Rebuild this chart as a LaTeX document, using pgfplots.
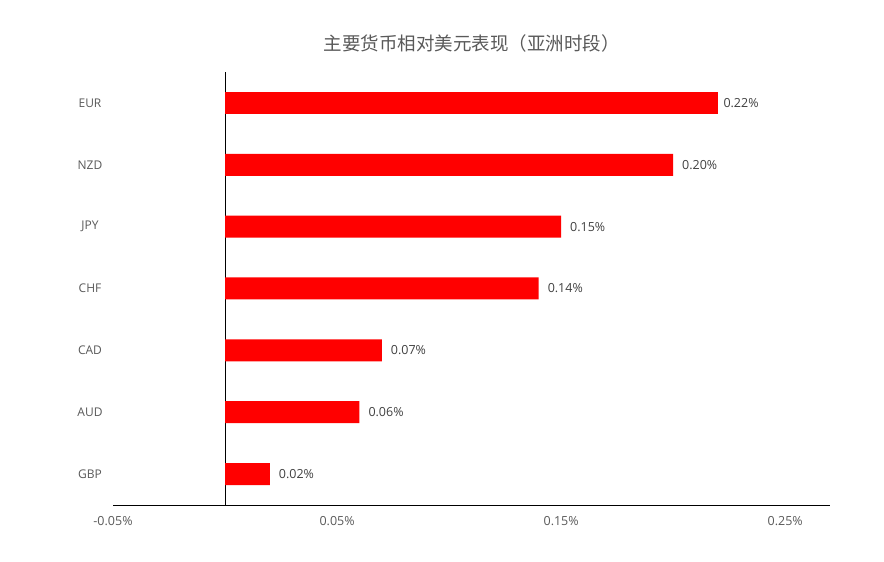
\documentclass[border=0pt]{standalone}
\usepackage{pgfplots}
\pgfplotsset{compat=1.18}
\usepackage{fontspec}
\setmainfont{Open Sans}
\newfontfamily\cjk{Noto Sans CJK SC}
\definecolor{txtgray}{HTML}{595959}
\definecolor{valgray}{HTML}{404040}

\begin{document}
\begin{tikzpicture}
  \begin{axis}[
    name=ax,
    xbar,
    bar shift=0pt,
    scale only axis,
    width=717pt, height=433pt,
    xmin=-0.05, xmax=0.27,
    ymin=-0.5, ymax=6.5,
    bar width=22pt,
    axis y line=none,
    axis x line*=bottom,
    x axis line style={black, line width=0.8pt, -},
    xtick={-0.05,0.05,0.15,0.25},
    xticklabels={-0.05\%,0.05\%,0.15\%,0.25\%},
    major tick length=0pt,
    xticklabel style={text=txtgray, font=\fontsize{12.5}{15}\selectfont, yshift=-8pt},
    extra x ticks={0},
    extra x tick labels={},
    extra x tick style={grid=major, major grid style={black, line width=0.8pt}},
    clip=false,
    /pgf/number format/assume math mode=true,
    nodes near coords={\pgfmathprintnumber[fixed, fixed zerofill, precision=2, assume math mode=true]{\pgfplotspointmeta}\%},
    nodes near coords style={text=valgray, font=\fontsize{12.5}{15}\selectfont, anchor=west, xshift=5.5pt},
  ]
    \addplot[fill=red, draw=none] coordinates {
      (0.02,0) (0.06,1) (0.07,2) (0.14,3) (0.15,4) (0.20,5)
    };
    \addplot[fill=red, draw=none, nodes near coords style={xshift=-3.5pt}] coordinates {
      (0.22,6)
    };
    % category names on the left edge
    \foreach \i/\n in {0/GBP,1/AUD,2/CAD,3/CHF,4/JPY,5/NZD,6/EUR} {
      \edef\tmp{\noexpand\node[text=txtgray, font=\noexpand\fontsize{12}{14}\noexpand\selectfont, anchor=center]
        at ([xshift=-23pt]axis cs:-0.05,\i) {\n};}
      \tmp
    }
  \end{axis}
  \node[text=txtgray, font=\cjk\fontsize{18.5}{22}\selectfont] at ([yshift=29pt]ax.north) {主要货币相对美元表现（亚洲时段）};
  \pgfresetboundingbox
  \path ([shift={(-113pt,-57pt)}]ax.south west) rectangle ([shift={(54pt,72pt)}]ax.north east);
\end{tikzpicture}
\end{document}
